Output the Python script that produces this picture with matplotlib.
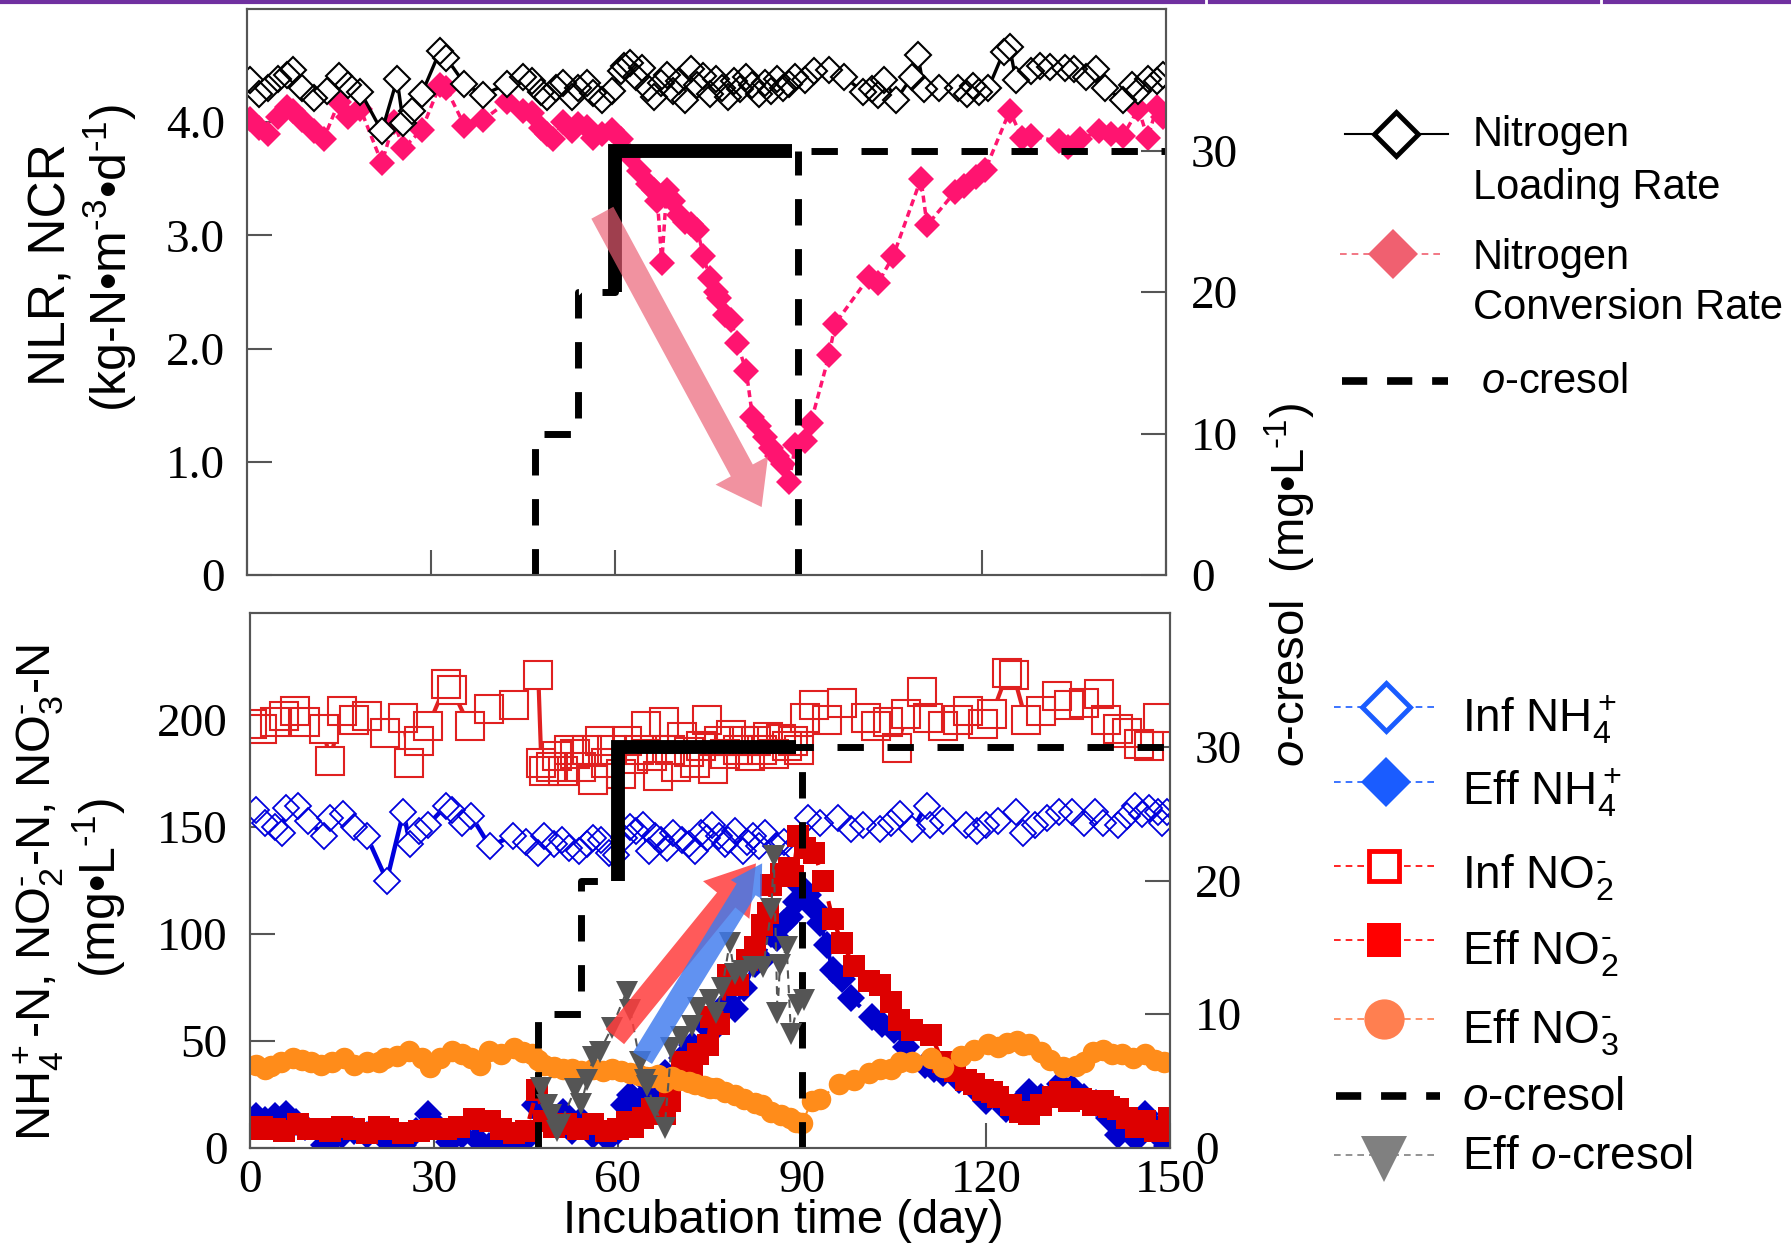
import matplotlib
matplotlib.use("Agg")
import matplotlib.pyplot as plt
from matplotlib.lines import Line2D

plt.rcParams['font.family'] = ['Liberation Sans', 'DejaVu Sans']
plt.rcParams['mathtext.fontset'] = 'custom'
plt.rcParams['mathtext.rm'] = 'Liberation Sans'
plt.rcParams['mathtext.it'] = 'Liberation Sans:italic'
plt.rcParams['mathtext.bf'] = 'Liberation Sans:bold'

# ---------------- data: top panel ----------------
nlr_day = [0.5, 2, 3.5, 5, 6.5, 7.5, 9, 11, 13, 15,
           16.5, 18.5, 22, 24.5, 25.5, 27, 28.5, 31.5, 32.5, 35.5,
           38.5, 42.5, 45, 46.5, 48, 49, 50.5, 51.5, 53, 54,
           55.5, 56.5, 58, 59.5, 61, 61.5, 62.5, 63.5, 64.5, 65.5,
           66.5, 67.5, 68.5, 69.5, 70.5, 71.5, 72.5, 73.5, 74.5, 75.5,
           76.5, 77.5, 78.5, 79.5, 80.5, 81.5, 82.5, 83.5, 84.5, 85.5,
           86.5, 87.5, 88.5, 89.5, 91, 92.5, 95, 97.5, 100.5, 102,
           103, 104, 106, 108.5, 109.5, 110.5, 113, 116, 117.5, 118.5,
           119.5, 121, 123.5, 124.5, 125.5, 128, 129.5, 131, 133.5, 135,
           137, 138.5, 140, 143, 144.5, 145.5, 147, 148.5, 149.5]
nlr_rate = [4.37, 4.25, 4.30, 4.38, 4.42, 4.46, 4.30, 4.21, 4.28, 4.41,
            4.33, 4.27, 3.92, 4.38, 3.99, 4.10, 4.25, 4.63, 4.57, 4.34,
            4.24, 4.34, 4.40, 4.36, 4.27, 4.22, 4.30, 4.35, 4.22, 4.30,
            4.35, 4.26, 4.20, 4.28, 4.45, 4.50, 4.52, 4.40, 4.48, 4.30,
            4.22, 4.35, 4.42, 4.28, 4.36, 4.20, 4.47, 4.33, 4.41, 4.25,
            4.38, 4.30, 4.22, 4.36, 4.29, 4.40, 4.33, 4.25, 4.35, 4.28,
            4.38, 4.30, 4.34, 4.40, 4.37, 4.45, 4.46, 4.40, 4.27, 4.29,
            4.24, 4.37, 4.20, 4.40, 4.59, 4.29, 4.30, 4.30, 4.25, 4.32,
            4.27, 4.30, 4.62, 4.66, 4.37, 4.45, 4.50, 4.49, 4.48, 4.47,
            4.40, 4.47, 4.30, 4.20, 4.33, 4.28, 4.38, 4.36, 4.42]

ncr_day = [0.5, 2, 3.5, 5, 6.5, 7.5, 9, 11, 12.5, 15,
           16.5, 18.5, 22, 24, 25.5, 28.5, 31.5, 32.5, 35.5, 38.5,
           42.5, 45, 46.5, 48, 49, 50, 51.5, 53, 54, 55.5,
           56.5, 58, 59.5, 61, 62.5, 64, 65.5, 66.5, 67, 67.7,
           68.5, 69.5, 70.5, 71.5, 72.5, 73.5, 74.5, 75.5, 76.5, 77,
           78, 79, 80, 81.5, 82.5, 83.5, 84.5, 85.5, 86.5, 87.5,
           88.5, 89.5, 91, 92, 95, 96, 101.5, 103, 105.5, 110,
           111, 115.5, 117, 119, 120.5, 124.5, 126.5, 128, 132.5, 134,
           136, 139, 141, 143, 145.5, 147, 148.5, 149.5]
ncr_rate = [4.03, 3.95, 3.90, 4.05, 4.13, 4.10, 4.02, 3.92, 3.85, 4.18,
            4.05, 4.12, 3.64, 4.00, 3.77, 3.93, 4.33, 4.30, 3.97, 4.02,
            4.18, 4.10, 4.08, 3.95, 3.90, 3.85, 4.00, 3.92, 3.98, 3.96,
            3.86, 3.90, 3.93, 3.85, 3.70, 3.57, 3.45, 3.40, 3.30, 2.76,
            3.40, 3.30, 3.18, 3.12, 3.10, 3.05, 2.82, 2.62, 2.50, 2.45,
            2.30, 2.25, 2.05, 1.80, 1.40, 1.32, 1.22, 1.12, 1.05, 0.98,
            0.82, 1.15, 1.18, 1.34, 1.94, 2.22, 2.63, 2.58, 2.82, 3.50,
            3.09, 3.38, 3.44, 3.52, 3.58, 4.10, 3.86, 3.88, 3.83, 3.78,
            3.85, 3.92, 3.90, 3.88, 4.12, 3.86, 4.13, 4.05]

# o-cresol in influent (right axes, mg/L)
cresol_day = [47, 47, 54, 60, 150]
cresol_conc = [0, 10, 20, 30, 30]
exposure_day = [60, 60, 89]
exposure_conc = [20, 30, 30]
stop_day = [90, 90]
stop_conc = [0, 30]

# ---------------- data: bottom panel ----------------
inf_no2_day = [0.3, 2, 4, 5.5, 7.3, 9, 12, 13, 15, 17,
               19, 22, 25, 26, 27.5, 29, 32, 33, 35.8, 39,
               43, 47, 47.5, 48, 49, 50, 51, 52, 53, 54,
               55, 56, 57, 58, 59, 60.5, 61.5, 62.5, 63.5, 64.5,
               65.5, 66.5, 67.5, 68.5, 69.5, 70.5, 71.5, 72.5, 73.5, 74.5,
               75.5, 76.5, 77.5, 78.5, 79.5, 80.5, 81.5, 82.5, 83.5, 84.5,
               85.5, 86.5, 87.5, 88.5, 89.5, 90.5, 92, 94, 96.5, 100.5,
               102, 104, 105.5, 107, 109.5, 110.5, 113, 115.5, 117, 119.5,
               121, 123.5, 124.5, 126.5, 129, 131.5, 133.5, 136, 138.5, 139.5,
               141.5, 143, 145, 146.5, 148]
inf_no2 = [198, 196, 199, 202, 204, 199, 196, 181, 204, 200,
           202, 194, 201, 180, 190, 197, 217, 214, 197, 205,
           207, 221, 180, 176, 178, 183, 176, 186, 184, 178,
           186, 172, 190, 180, 186, 175, 190, 182, 186, 197,
           183, 174, 199, 186, 178, 192, 185, 180, 188, 200,
           177, 190, 184, 193, 186, 190, 183, 190, 186, 192,
           184, 191, 188, 190, 186, 201, 207, 200, 208, 201,
           197, 199, 187, 203, 213, 201, 197, 200, 204, 198,
           203, 222, 221, 200, 204, 211, 207, 208, 212, 200,
           196, 194, 189, 188, 201]

inf_nh4_day = [0.9, 2.5, 4, 5.2, 5.8, 7.8, 9.5, 12, 13, 15.2,
               17, 19, 22.3, 25, 26.1, 27.5, 29, 32, 33, 34.5,
               36.1, 39.1, 42.9, 45, 47, 48, 49.5, 50.8, 52, 53.6,
               55, 56, 57.3, 58.5, 59.7, 61, 62, 63, 64, 65,
               66, 67, 68, 69, 70.4, 71.5, 72.6, 73.5, 74.5, 75.4,
               76.5, 77.5, 78, 79, 80.3, 81, 82, 83, 84, 85.8,
               87, 88.5, 91, 93, 95.9, 98, 100, 102.7, 104.5, 105.9,
               108, 110.3, 110.8, 113, 116.7, 118.5, 120, 122, 124.9, 126,
               128, 130, 131.9, 134, 136, 137.8, 139, 141.6, 143, 144.3,
               145.5, 146.5, 148.1, 148.7, 149.5]
inf_nh4 = [158, 152, 150, 147, 159, 160, 153, 146, 154, 156,
           150, 146, 125, 157, 142, 148, 151, 160, 158, 152,
           155, 141, 146, 143, 138, 146, 142, 144, 140, 139,
           142, 145, 144, 138, 137, 145, 150, 148, 151, 139,
           146, 144, 140, 147, 144, 142, 139, 147, 145, 151,
           146, 142, 144, 148, 139, 143, 146, 141, 147, 141,
           143, 140, 154, 152, 154, 149, 151, 149, 152, 156,
           149, 160, 151, 153, 151, 148, 151, 153, 157, 147,
           151, 154, 157, 157, 152, 157, 152, 151, 155, 160,
           156, 159, 157, 152, 157]

eff_nh4_day = [0.9, 2.5, 4.1, 5.8, 7.5, 9, 12, 13.5, 15, 17,
               19, 22, 25, 27, 29, 31, 32.5, 34.5, 37, 39,
               41, 42.5, 44.5, 46.5, 48, 49.5, 51, 52.5, 54, 56,
               58.3, 60, 61, 62, 63.5, 65, 66, 67.6, 68.5, 70.4,
               72, 73, 74, 75.5, 76.5, 78, 79, 80.5, 82.3, 83.5,
               85, 86, 87, 88, 89, 89.9, 91, 92, 93, 94,
               95, 96.5, 98, 101.4, 103, 105, 107, 110, 111.5, 113,
               115.6, 118, 120, 123.3, 125, 127, 129, 132, 134, 136,
               138, 140, 141.6, 143, 144.5, 146, 147.5, 148.7, 149.5]
eff_nh4 = [15, 13, 15, 16, 12, 10, 1.5, 4, 6, 8,
           6, 4, 1.5, 8, 16, 9, 3, 6, 4, 1,
           5, 0, 3, 20, 17, 12, 17, 8, 13, 6,
           4, 8, 20, 25, 22, 30, 27, 35, 30, 42,
           48, 45, 58, 55, 62, 68, 65, 75, 86, 88,
           100, 98, 105, 108, 115, 122, 118, 112, 105, 95,
           83, 79, 70, 61, 58, 55, 47, 39, 37, 35,
           32, 28, 22, 18, 20, 26, 24, 30, 28, 24,
           21, 14, 6, 10, 4, 16, 10, 4, 1]

eff_no2_day = [0.5, 2, 4, 5.5, 7.9, 9.5, 11.4, 13, 15, 17,
               19, 21, 22.5, 25, 27.5, 29.5, 32, 34, 36.6, 39.2,
               41, 43, 45, 46.8, 48, 49.5, 51.5, 53.5, 56, 58,
               60, 61.5, 62.5, 64, 65.5, 67.7, 68.5, 70.4, 72, 73,
               74.6, 75.2, 76.5, 78, 79.5, 81, 82.3, 83.4, 84.5, 85,
               86.5, 87.8, 88.5, 89.4, 90.5, 92, 93.5, 95, 96.5, 98.5,
               101, 102.7, 104.5, 105.8, 108, 111, 113, 115, 116.8, 118,
               119.5, 121, 122, 124, 125.5, 127, 129, 131, 132, 133.5,
               135.5, 137.5, 139, 140, 141.6, 143, 144.5, 146, 147.5, 149,
               149.8]
eff_no2 = [9, 10, 9, 8, 11, 9, 9, 8, 10, 9,
           7, 10, 9, 7, 8, 9, 9, 10, 13.5, 12.5,
           9, 7, 8, 27, 12.5, 10, 11, 9, 11, 8,
           9, 12, 10, 14, 18, 16, 22, 40, 38, 44,
           48, 61, 58, 81, 76, 88, 94, 104, 110, 123,
           128, 131, 127, 146, 140, 138, 125, 107, 96, 85,
           78, 76, 68, 60, 55, 53, 40, 36, 32, 30,
           27, 26, 24, 20, 17, 16, 20, 24, 26, 22,
           23, 20, 22, 19, 18, 14, 10, 12.6, 8, 8,
           14]

eff_no3_day = [0.9, 2.5, 3.5, 5, 7, 8.5, 10, 11.5, 13.3, 15.3,
               17, 19, 21, 22, 24, 26, 28, 29.4, 31, 33,
               34.5, 36, 37.5, 39, 41, 43, 44.5, 46, 47, 48,
               49.5, 51, 52.5, 54, 56, 57.5, 59, 60.5, 62, 63.5,
               64.5, 65.5, 66.5, 67.5, 68.8, 70, 71.5, 72.6, 74, 75,
               76, 77.5, 79, 80.5, 82.3, 83.5, 85, 86.5, 88, 89,
               90, 91.6, 93, 96, 98.5, 101, 102.7, 104.5, 106, 108,
               111, 113, 116, 118, 120.4, 122, 123.5, 125, 126, 127,
               129, 130.5, 132.5, 134.6, 136, 137.5, 139, 140.5, 142.2, 144,
               146, 147.5, 149]
eff_no3 = [39, 37, 38.5, 40, 42, 41, 40, 39, 40, 42,
           39, 40, 40, 42, 43, 45.5, 42, 38, 42, 45.5,
           44, 42, 39, 45.5, 44, 46.5, 45, 44, 41, 39,
           38, 37, 37, 36, 37, 36, 37, 36, 35, 34,
           33, 33, 34, 31, 33, 32, 31, 30, 29, 28,
           28, 26, 25, 23, 21, 20, 17, 15.5, 14, 12,
           11.5, 22, 23, 30, 32, 35, 37, 37, 40, 40,
           42, 38, 43, 45.7, 48.7, 47, 49, 50, 48, 48.7,
           45, 41, 38, 38.5, 40, 45, 45.7, 44, 44, 42,
           44, 41, 40]

eff_cresol_day = [47.5, 48.4, 49, 50, 50.5, 53, 54, 55, 56, 57,
                  59, 61.4, 62, 63.6, 64.4, 64.8, 66, 67.6, 68.7, 70.3,
                  72, 73, 75, 76, 77, 78.2, 79, 80.3, 82, 83.7,
                  85, 85.4, 86, 86.4, 87.5, 88.2, 89.3, 90.3]
eff_cresol = [4.5, 3.2, 2.5, 1.3, 1.7, 4.4, 3.3, 5.1, 6.8, 7.2,
              9, 11.7, 10.3, 6.4, 5.1, 4.6, 3, 1.5, 7.5, 8.3,
              9.1, 10.5, 11.1, 10.1, 12, 15.3, 13, 13.2, 13.5, 13.5,
              17.9, 21.8, 10.1, 13.7, 15, 8.5, 10.7, 11.1]

# trend arrows (tail, head) in left-axis data units
ncr_arrow = [(58, 3.2), (84, 0.6)]
no2_arrow = [(59.5, 52), (82.5, 133)]
nh4_arrow = [(64, 42), (83.5, 133)]

# ---------------- figure ----------------
W, H = 1791, 1243
fig = plt.figure(figsize=(W / 100, H / 100), dpi=100)


def fx(p):
    return p / W


def fy(p):
    return 1 - p / H


ax1 = fig.add_axes([fx(247), fy(575), (1166 - 247) / W, (575 - 9) / H])
ax2 = fig.add_axes([fx(250), fy(1148), (1170 - 250) / W, (1148 - 613) / H])
ax1r = ax1.twinx()
ax2r = ax2.twinx()

SP = '#555555'
for a in (ax1, ax1r, ax2, ax2r):
    for s in a.spines.values():
        s.set_color(SP)
        s.set_linewidth(1.5)
    a.tick_params(direction='in', length=18, width=1.5, color=SP,
                  labelsize=34, labelfontfamily='Liberation Serif')
for a in (ax1, ax2):
    a.tick_params(axis='y', pad=16)
    a.tick_params(axis='x', pad=8)
for a in (ax1r, ax2r):
    a.tick_params(axis='y', pad=18)

# top panel axes
ax1.set_xlim(0, 150)
ax1.set_ylim(0, 5)
ax1.set_xticks([0, 30, 60, 90, 120, 150])
ax1.tick_params(axis='x', labelbottom=False)
ax1.set_yticks([0, 1, 2, 3, 4])
ax1.set_yticklabels(['0', '1.0', '2.0', '3.0', '4.0'])
ax1r.set_ylim(0, 40)
ax1r.set_yticks([0, 10, 20, 30])

# bottom panel axes
ax2.set_xlim(0, 150)
ax2.set_ylim(0, 250)
ax2.set_xticks([0, 30, 60, 90, 120, 150])
ax2.set_yticks([0, 50, 100, 150, 200])
ax2r.set_ylim(0, 40)
ax2r.set_yticks([0, 10, 20, 30])


def open_series(ax, x, y, color, lw, ls, marker, ms, mew, z):
    ax.plot(x, y, color=color, lw=lw, ls=ls, zorder=z)
    ax.plot(x, y, ls='none', marker=marker, ms=ms, mfc='white', mec='none', zorder=z)
    ax.plot(x, y, ls='none', marker=marker, ms=ms, mfc='none', mec=color, mew=mew, zorder=z)


# ---- top panel data ----
PINK = '#ff1470'
ax1.plot(ncr_day, ncr_rate, color=PINK, lw=2.5, ls=(0, (2, 1.3)),
         marker='D', ms=13.5, mfc=PINK, mec=PINK, mew=0, zorder=2)
open_series(ax1, nlr_day, nlr_rate, 'black', 2.4, '-', 'D', 13.5, 1.5, 3)

CRES_LS = (0, (3.8, 3.4))
ax1r.plot(cresol_day, cresol_conc, drawstyle='steps-post', color='black', lw=5,
          ls=CRES_LS, dash_capstyle='butt')
ax1r.plot(stop_day, stop_conc, color='black', lw=5, ls=CRES_LS, dash_capstyle='butt')
ax1r.plot(exposure_day, exposure_conc, color='black', lw=10,
          solid_joinstyle='miter', solid_capstyle='butt')

ax1r.annotate('', xy=ncr_arrow[1], xytext=ncr_arrow[0],
              xycoords=ax1.transData, textcoords=ax1.transData,
              arrowprops=dict(arrowstyle='simple,head_length=3.0,head_width=4.3,tail_width=1.8',
                              mutation_scale=10, fc='#eb5e74', ec='none', alpha=0.68,
                              shrinkA=0, shrinkB=0), zorder=5)

# ---- bottom panel data ----
open_series(ax2, inf_no2_day, inf_no2, '#e02020', 3, '-', 's', 20, 1.5, 2)
open_series(ax2, inf_nh4_day, inf_nh4, '#0000dd', 3.2, '-', 'D', 13.5, 1.3, 2)
ax2.plot(eff_nh4_day, eff_nh4, color='#0000cc', lw=3, ls=(0, (4, 2.5)),
         marker='D', ms=14, mfc='#0000cc', mec='#0000cc', mew=0, zorder=3)
ax2.plot(eff_no2_day, eff_no2, color='#dd0000', lw=3, ls=(0, (4, 2.5)),
         marker='s', ms=16.5, mfc='#dd0000', mec='#dd0000', mew=0, zorder=4)
ax2.plot(eff_no3_day, eff_no3, color='#ff8c1a', lw=1.5, ls=(0, (4, 2.5)),
         marker='o', ms=15.5, mfc='#ff8c1a', mec='#ff8c1a', mew=0, zorder=5)

ax2r.plot(cresol_day, cresol_conc, drawstyle='steps-post', color='black', lw=5,
          ls=CRES_LS, dash_capstyle='butt')
ax2r.plot(stop_day, stop_conc, color='black', lw=5, ls=CRES_LS, dash_capstyle='butt')
ax2r.plot(exposure_day, exposure_conc, color='black', lw=10,
          solid_joinstyle='miter', solid_capstyle='butt')
ax2r.plot(eff_cresol_day, eff_cresol, color='#555555', lw=1.5, ls=(0, (4, 3)),
          marker='v', ms=16.5, mfc='#555555', mec='#555555', mew=0, zorder=3)

ax2r.annotate('', xy=no2_arrow[1], xytext=no2_arrow[0],
              xycoords=ax2.transData, textcoords=ax2.transData,
              arrowprops=dict(arrowstyle='simple,head_length=3.4,head_width=4.3,tail_width=1.7',
                              mutation_scale=10, fc='#ff3d3d', ec='none', alpha=0.85,
                              shrinkA=0, shrinkB=0), zorder=5)
ax2r.annotate('', xy=nh4_arrow[1], xytext=nh4_arrow[0],
              xycoords=ax2.transData, textcoords=ax2.transData,
              arrowprops=dict(arrowstyle='simple,head_length=2.2,head_width=2.6,tail_width=1.6',
                              mutation_scale=10, fc='#3e7aee', ec='none', alpha=0.82,
                              shrinkA=0, shrinkB=0), zorder=6)

# ---- axis labels ----
MINUS = r'\text{-}'
fig.text(fx(52), fy(265), 'NLR, NCR', rotation=90, ha='center', va='center', fontsize=37)
fig.text(fx(110), fy(258), '(kg-N\u2022m$^{' + MINUS + '3}$\u2022d$^{' + MINUS + '1}$)',
         rotation=90, ha='center', va='center', fontsize=36)
fig.text(fx(39), fy(893),
         'NH$_4^+$-N, NO$_2^{' + MINUS + '}$-N, NO$_3^{' + MINUS + '}$-N',
         rotation=90, ha='center', va='center', fontsize=35)
fig.text(fx(99), fy(888), '(mg\u2022L$^{' + MINUS + '1}$)', rotation=90,
         ha='center', va='center', fontsize=36)
fig.text(fx(1290), fy(585), '$o$-cresol  (mg\u2022L$^{' + MINUS + '1}$)', rotation=90,
         ha='center', va='center', fontsize=34)
fig.text(fx(783), fy(1221), 'Incubation time (day)', ha='center', va='center', fontsize=34)

# ---- manual legends ----


def leg_line(x0, x1, y, **kw):
    fig.add_artist(Line2D([fx(x0), fx(x1)], [fy(y), fy(y)], transform=fig.transFigure, **kw))


def leg_marker(x, y, **kw):
    fig.add_artist(Line2D([fx(x)], [fy(y)], transform=fig.transFigure, ls='none', **kw))


def leg_text(x, ycap, s, size):
    cap = 0.716 * size * 100 / 72
    fig.text(fx(x), fy(ycap + cap / 2), s, fontsize=size, ha='left', va='baseline')


# top legend
leg_line(1345, 1448, 134, color='black', lw=1.5)
leg_marker(1396, 134, marker='D', ms=22, mfc='white', mec='black', mew=3.5)
leg_text(1473, 131, 'Nitrogen', 30)
leg_text(1473, 184, 'Loading Rate', 30)
leg_line(1340, 1445, 254, color='#f06070', lw=1.2, ls=(0, (4, 3)))
leg_marker(1393, 254, marker='D', ms=25, mfc='#f06070', mec='#f06070', mew=0)
leg_text(1473, 254, 'Nitrogen', 30)
leg_text(1473, 304, 'Conversion Rate', 30)
leg_line(1342, 1448, 381, color='black', lw=5.5, ls=(0, (3.3, 2.6)), dash_capstyle='butt')
leg_text(1481, 378, '$o$-cresol', 30)

# bottom legend
BL = '#1a5cff'
leg_line(1334, 1436, 707, color=BL, lw=1.2, ls=(0, (4, 3)))
leg_marker(1386, 707, marker='D', ms=24, mfc='white', mec=BL, mew=3.5)
leg_text(1462, 715, 'Inf NH$_4^+$', 33)
leg_line(1334, 1436, 782, color=BL, lw=1.2, ls=(0, (4, 3)))
leg_marker(1386, 782, marker='D', ms=25, mfc=BL, mec=BL, mew=0)
leg_text(1462, 788, 'Eff NH$_4^+$', 33)
leg_line(1334, 1436, 866, color='#ff0000', lw=1.2, ls=(0, (4, 3)))
leg_marker(1384, 866, marker='s', ms=22, mfc='white', mec='#ff0000', mew=3.5)
leg_text(1462, 872, 'Inf NO$_2^{' + MINUS + '}$', 33)
leg_line(1334, 1436, 940, color='#ff0000', lw=1.2, ls=(0, (4, 3)))
leg_marker(1384, 940, marker='s', ms=25, mfc='#ff0000', mec='#ff0000', mew=0)
leg_text(1462, 948, 'Eff NO$_2^{' + MINUS + '}$', 33)
leg_line(1334, 1436, 1019, color='#ff7f50', lw=1.2, ls=(0, (4, 3)))
leg_marker(1384, 1019, marker='o', ms=29, mfc='#ff7f50', mec='#ff7f50', mew=0)
leg_text(1462, 1027, 'Eff NO$_3^{' + MINUS + '}$', 33)
leg_line(1336, 1440, 1096, color='black', lw=5.5, ls=(0, (3.3, 2.6)), dash_capstyle='butt')
leg_text(1462, 1094, '$o$-cresol', 33)
leg_line(1334, 1436, 1155, color='#808080', lw=1.2, ls=(0, (4, 3)))
leg_marker(1384, 1159, marker='v', ms=33, mfc='#808080', mec='#808080', mew=0)
leg_text(1462, 1153, 'Eff $o$-cresol', 33)

# slide border line at the very top
for x0, x1 in [(0, 1203), (1210, 1598), (1605, 1791)]:
    fig.add_artist(Line2D([fx(x0), fx(x1)], [fy(1.5), fy(1.5)], transform=fig.transFigure,
                          color='#7030a0', lw=3))

fig.savefig('out.png', dpi=100)
